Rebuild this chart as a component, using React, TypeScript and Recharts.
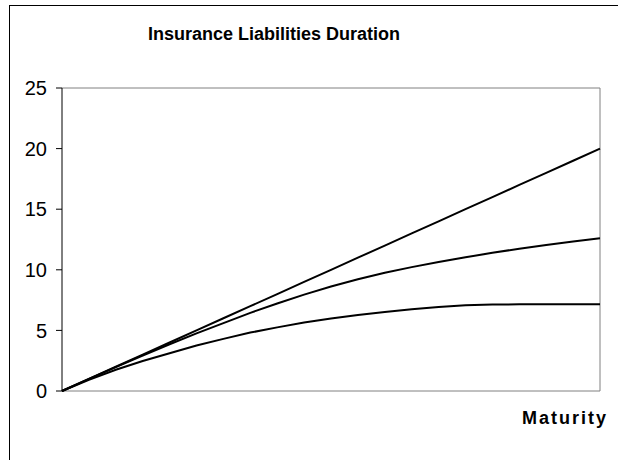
import { LineChart, Line, XAxis, YAxis, ReferenceLine } from "recharts";

const maturities = [0, 1, 2, 3, 4, 5, 6, 7, 8, 9, 10, 11, 12, 13, 14, 15, 16, 17, 18, 19, 20];
const zeroCoupon = [0, 1, 2, 3, 4, 5, 6, 7, 8, 9, 10, 11, 12, 13, 14, 15, 16, 17, 18, 19, 20];
const lowCoupon = [0, 1.0, 1.97, 2.93, 3.86, 4.75, 5.6, 6.45, 7.22, 7.95, 8.62, 9.22, 9.76, 10.22, 10.64, 11.03, 11.4, 11.74, 12.05, 12.33, 12.6];
const highCoupon = [0, 0.92, 1.75, 2.48, 3.12, 3.75, 4.3, 4.82, 5.25, 5.65, 5.98, 6.27, 6.52, 6.74, 6.93, 7.07, 7.13, 7.15, 7.15, 7.15, 7.15];
const yTicks = [0, 5, 10, 15, 20, 25];

const data = maturities.map((m, i) => ({
  m,
  zero: zeroCoupon[i],
  low: lowCoupon[i],
  high: highCoupon[i],
}));

const font = "Arial, 'Liberation Sans', sans-serif";

export default function App() {
  return (
    <div
      style={{
        position: "absolute",
        left: 0,
        top: 0,
        width: 618,
        height: 460,
        background: "#fff",
        overflow: "hidden",
        fontFamily: font,
      }}
    >
      {/* chart frame, right and bottom edges fall outside the picture */}
      <div
        style={{
          position: "absolute",
          left: 9,
          top: 5,
          width: 700,
          height: 600,
          borderLeft: "1px solid #000",
          borderTop: "1px solid #000",
        }}
      />
      <div
        style={{
          position: "absolute",
          left: 0,
          width: 548,
          top: 24,
          textAlign: "center",
          fontSize: 18,
          fontWeight: "bold",
          color: "#000",
        }}
      >
        Insurance Liabilities Duration
      </div>
      <div
        style={{
          position: "absolute",
          right: 10,
          top: 408,
          fontSize: 18,
          fontWeight: "bold",
          letterSpacing: 2,
          color: "#000",
        }}
      >
        Maturity
      </div>
      <div style={{ position: "absolute", left: 0, top: 0 }}>
        <LineChart
          width={618}
          height={460}
          data={data}
          margin={{ top: 88, right: 18, bottom: 69, left: 0 }}
        >
          <XAxis dataKey="m" type="number" domain={[0, 20]} hide />
          <YAxis
            domain={[0, 25]}
            ticks={yTicks}
            width={62}
            tickSize={6}
            tickMargin={9}
            axisLine={{ stroke: "#000" }}
            tickLine={{ stroke: "#000" }}
            tick={{ fill: "#000", fontSize: 20, fontFamily: font }}
          />
          <ReferenceLine y={25} stroke="#808080" />
          <ReferenceLine y={0} stroke="#808080" />
          <ReferenceLine x={20} stroke="#808080" />
          <Line type="linear" dataKey="zero" stroke="#000" strokeWidth={2} dot={false} isAnimationActive={false} />
          <Line type="linear" dataKey="low" stroke="#000" strokeWidth={2} dot={false} isAnimationActive={false} />
          <Line type="linear" dataKey="high" stroke="#000" strokeWidth={2} dot={false} isAnimationActive={false} />
        </LineChart>
      </div>
    </div>
  );
}
